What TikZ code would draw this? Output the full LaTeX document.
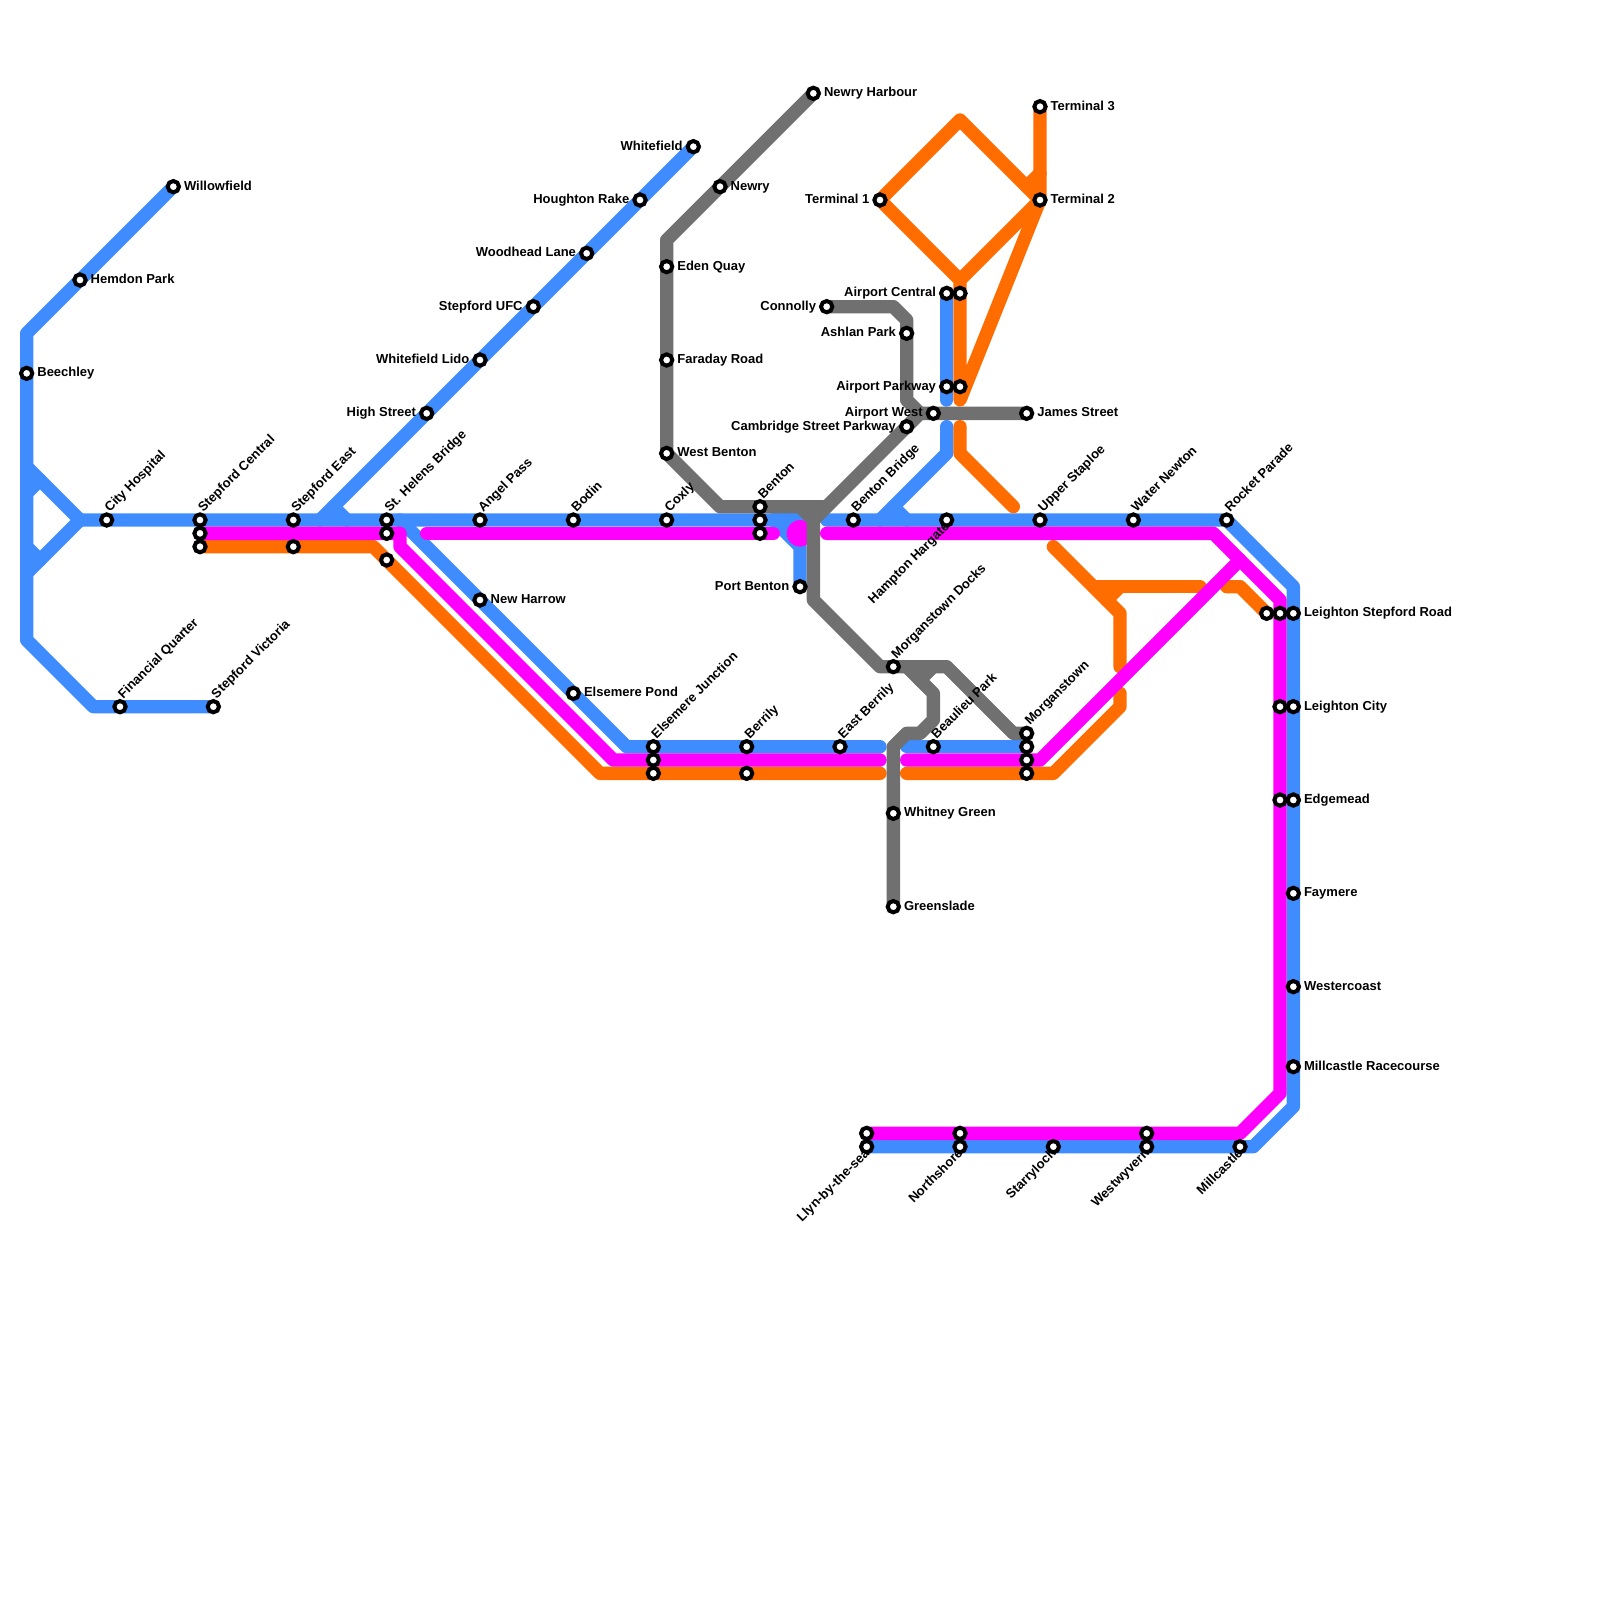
\documentclass[tikz,border=0pt]{standalone}
\usepackage{fontspec}
\setmainfont{Liberation Sans}
\definecolor{lblue}{HTML}{3F8CFF}
\definecolor{lpink}{HTML}{FF00FF}
\definecolor{lorange}{HTML}{FF6C00}
\definecolor{lgray}{HTML}{707070}
\tikzset{
  route/.style={line width=13.333pt,line cap=round,line join=round},
  blueroute/.style={route,draw=lblue},
  pinkroute/.style={route,draw=lpink},
  orangeroute/.style={route,draw=lorange},
  grayroute/.style={route,draw=lgray},
  ring/.style={circle,draw=black,fill=white,line width=4pt,minimum size=11.3pt,inner sep=0pt,outer sep=0pt},
  lbl/.style={inner sep=0pt,outer sep=0pt,text=black,font=\fontsize{13}{15}\selectfont\bfseries},
  lblR/.style={lbl,anchor=base west,xshift=10.7pt,yshift=-3.5pt},
  lblL/.style={lbl,anchor=base east,xshift=-10.7pt,yshift=-3.5pt},
  lblU/.style={lbl,anchor=base west,rotate=45,xshift=7.7pt,yshift=3pt},
  lblD/.style={lbl,anchor=base east,rotate=45,xshift=-3pt,yshift=-7.7pt},
}
\begin{document}
\begin{tikzpicture}[x=13.3333pt,y=-13.3333pt]
\path[fill=white] (0,0) rectangle (120,120);
\useasboundingbox (0,0) rectangle (120,120);
% route vertices
\foreach \x/\y in {13/14,2/25,2/48,7/53,16/53,2/35,6/39,2/43,2/37,3/36,2/41,3/42,60/39,58/39,60/41,60/44,
  62/39,92/39,97/44,97/83,94/86,65/86,24/39,52/11,25/38,26/39,30/39,47/56,66/56,68/56,77/56,
  71/22,71/30,71/32,71/34,66/39,67/38,68/39,
  15/41,28/41,45/58,66/58,68/58,79/58,84/53,84/52,79/41,84/46,84/50,82/44,90/44,83/45,84/44,92/44,93/44,95/46,
  66/15,72/9,78/15,72/21,72/30,78/8,77/14,78/13,72/32,72/34,76/38,
  15/40,30/40,30/41,46/57,66/57,32/40,58/40,60/40,62/40,91/40,96/45,96/82,93/85,65/85,68/57,78/57,93/42,
  61/7,50/18,50/34,54/38,62/38,69/31,77/31,62/23,67/23,68/24,68/30,61/38,61/45,66/50,71/50,76/55,77/55,60/38,61/39,
  68/50,70/52,70/54,69/55,68/55,67/56,67/68,69/51,70/50}
  {\coordinate (p\x x\y) at (\x,\y);}
% blue
\draw[blueroute] (p13x14)--(p2x25)--(p2x48)--(p7x53)--(p16x53);
\draw[blueroute] (p2x35)--(p6x39)--(p2x43);
\draw[blueroute] (p2x37)--(p3x36);
\draw[blueroute] (p2x41)--(p3x42);
\draw[blueroute] (p6x39)--(p58x39)--(p60x41)--(p60x44);
\draw[blueroute] (p58x39)--(p60x39);
\draw[blueroute] (p62x39)--(p92x39)--(p97x44)--(p97x83)--(p94x86)--(p65x86);
\draw[blueroute] (p24x39)--(p52x11);
\draw[blueroute] (p25x38)--(p26x39);
\draw[blueroute] (p30x39)--(p47x56)--(p66x56);
\draw[blueroute] (p68x56)--(p77x56);
\draw[blueroute] (p71x22)--(p71x30);
\draw[blueroute] (p71x32)--(p71x34)--(p66x39);
\draw[blueroute] (p67x38)--(p68x39);
% orange
\draw[orangeroute] (p15x41)--(p28x41)--(p45x58)--(p66x58);
\draw[orangeroute] (p68x58)--(p79x58)--(p84x53)--(p84x52);
\draw[orangeroute] (p79x41)--(p84x46)--(p84x50);
\draw[orangeroute] (p82x44)--(p90x44);
\draw[orangeroute] (p83x45)--(p84x44);
\draw[orangeroute] (p92x44)--(p93x44)--(p95x46);
\draw[orangeroute] (p72x30)--(p72x21)--(p66x15)--(p72x9)--(p78x15)--cycle;
\draw[orangeroute] (p72x21)--(p78x15)--(p78x8);
\draw[orangeroute] (p77x14)--(p78x13);
\draw[orangeroute] (p72x32)--(p72x34)--(p76x38);
% pink
\draw[pinkroute] (p15x40)--(p30x40)--(p30x41)--(p46x57)--(p66x57);
\draw[pinkroute] (p32x40)--(p58x40);
\draw[pinkroute] (p62x40)--(p91x40)--(p96x45)--(p96x82)--(p93x85)--(p65x85);
\draw[pinkroute] (p68x57)--(p78x57)--(p93x42);
\fill[lpink] (p60x40) circle[radius=13.3pt];
% gray
\draw[grayroute] (p61x7)--(p50x18)--(p50x34)--(p54x38)--(p62x38)--(p69x31)--(p77x31);
\draw[grayroute] (p62x23)--(p67x23)--(p68x24)--(p68x30)--(p69x31);
\draw[grayroute] (p61x38)--(p61x45)--(p66x50)--(p71x50)--(p76x55)--(p77x55);
\draw[grayroute] (p60x38)--(p61x39)--(p62x38);
\draw[grayroute] (p68x50)--(p70x52)--(p70x54)--(p69x55)--(p68x55)--(p67x56)--(p67x68);
\draw[grayroute] (p69x51)--(p70x50);
% stations without a label of their own
\foreach \x/\y in {15/40,15/41,22/41,29/40,29/42,49/57,49/58,56/58,57/39,57/40,
  77/56,77/57,77/58,95/46,96/46,96/53,96/60,72/22,72/29,65/85,72/85,86/85,60/40}
  {\ifnum\x=60\else\node[ring] (st\x x\y) at (\x,\y) {};\fi}
% stations labelled to the right
\foreach \x/\y/\t in {2/28/Beechley,6/21/Hemdon Park,13/14/Willowfield,36/45/New Harrow,43/52/Elsemere Pond,
  61/7/Newry Harbour,54/14/Newry,50/20/Eden Quay,50/27/Faraday Road,50/34/West Benton,77/31/James Street,
  78/8/Terminal 3,78/15/Terminal 2,67/61/Whitney Green,67/68/Greenslade,97/46/Leighton Stepford Road,
  97/53/Leighton City,97/60/Edgemead,97/67/Faymere,97/74/Westercoast,97/80/Millcastle Racecourse}
  {\node[ring] (st\x x\y) at (\x,\y) {};
   \node[lblR] (lb\x x\y) at (\x,\y) {\t};}
% stations labelled to the left
\foreach \x/\y/\t in {52/11/Whitefield,48/15/Houghton Rake,44/19/Woodhead Lane,40/23/Stepford UFC,36/27/Whitefield Lido,
  32/31/High Street,60/44/Port Benton,62/23/Connolly,68/25/Ashlan Park,68/32/Cambridge Street Parkway,70/31/Airport West,
  71/22/Airport Central,71/29/Airport Parkway,66/15/Terminal 1}
  {\node[ring] (st\x x\y) at (\x,\y) {};
   \node[lblL] (lb\x x\y) at (\x,\y) {\t};}
% stations labelled up the diagonal
\foreach \x/\y/\t in {8/39/City Hospital,15/39/Stepford Central,22/39/Stepford East,29/39/St. Helens Bridge,36/39/Angel Pass,
  43/39/Bodin,50/39/Coxly,57/38/Benton,64/39/Benton Bridge,78/39/Upper Staploe,85/39/Water Newton,92/39/Rocket Parade,
  9/53/Financial Quarter,16/53/Stepford Victoria,49/56/Elsemere Junction,56/56/Berrily,63/56/East Berrily,70/56/Beaulieu Park,
  77/55/Morganstown,67/50/Morganstown Docks}
  {\node[ring] (st\x x\y) at (\x,\y) {};
   \node[lblU] (lb\x x\y) at (\x,\y) {\t};}
% stations labelled down the diagonal
\foreach \x/\y/\t in {71/39/Hampton Hargate,65/86/Llyn-by-the-sea,72/86/Northshore,79/86/Starryloch,86/86/Westwyvern,93/86/Millcastle}
  {\node[ring] (st\x x\y) at (\x,\y) {};
   \node[lblD] (lb\x x\y) at (\x,\y) {\t};}
\end{tikzpicture}
\end{document}
